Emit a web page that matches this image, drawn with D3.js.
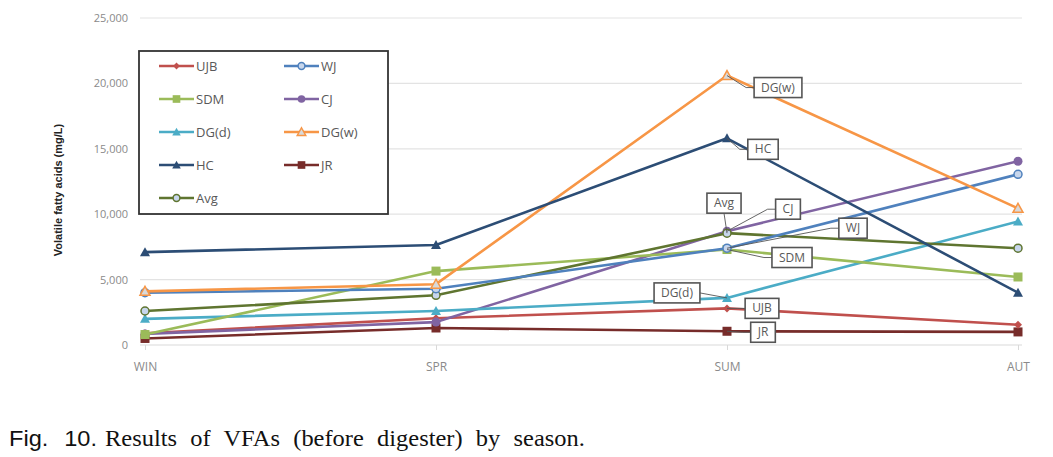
<!DOCTYPE html>
<html><head><meta charset="utf-8">
<script src="https://cdn.jsdelivr.net/npm/d3@7"></script>
<style>body{margin:0;background:#fff}svg{display:block}</style>
</head><body>
<svg id="c" width="1053" height="457"></svg>
<script>
const categories = ["WIN", "SPR", "SUM", "AUT"];
const seriesNames = ["UJB", "WJ", "SDM", "CJ", "DG(d)", "DG(w)", "HC", "JR", "Avg"];
const UJB  = [900, 2050, 2800, 1550];
const WJ   = [4000, 4300, 7400, 13050];
const SDM  = [800, 5650, 7300, 5200];
const CJ   = [850, 1750, 8700, 14050];
const DGd  = [2000, 2600, 3600, 9450];
const DGw  = [4100, 4650, 20600, 10450];
const HC   = [7100, 7650, 15800, 4000];
const JR   = [500, 1300, 1050, 1000];
const Avg  = [2600, 3800, 8550, 7400];
const yTicks = [0, 5000, 10000, 15000, 20000, 25000];

const seriesValues = [UJB, WJ, SDM, CJ, DGd, DGw, HC, JR, Avg];
const colors = ["#C0504D", "#4F81BD", "#9BBB59", "#8064A2", "#4BACC6", "#F79646", "#2C4D75", "#772C2A", "#5F7530"];
const markers = ["diamond", "circleHollow", "square", "circle", "triangle", "triangleHollow", "triangle", "square", "circleHollow"];
const order = [7, 0, 3, 4, 2, 8, 1, 5, 6];

const labelOffsets = {
  "DG(w)": [51, 12], "HC": [36, 11], "Avg": [-3, -30], "CJ": [61, -22],
  "WJ": [126, -20], "SDM": [65, 8], "DG(d)": [-50, -5], "UJB": [35, 0], "JR": [36, 1]
};

const svg = d3.select("#c");
const x = d3.scalePoint().domain(categories).range([145, 1018]);
const y = d3.scaleLinear().domain([0, 25000]).range([345, 18]);

svg.append("g").selectAll("line").data(yTicks.filter(d => d > 0)).join("line")
  .attr("x1", 140).attr("x2", 1022)
  .attr("y1", d => y(d)).attr("y2", d => y(d))
  .attr("stroke", "#e3e3e3").attr("stroke-width", 1.2);

const xa = svg.append("g").attr("transform", `translate(0,${y(0)})`)
  .call(d3.axisBottom(x).tickSize(5).tickPadding(12));
xa.select(".domain").attr("d", "M140,0H1022").attr("stroke", "#d9d9d9").attr("stroke-width", 1.2);
xa.selectAll(".tick line").attr("stroke", "#d9d9d9");
xa.selectAll("text").attr("fill", "#8a8a8a").style("font-family", "'Open Sans', Arial, sans-serif").style("font-size", "12px");

const ya = svg.append("g").attr("transform", "translate(128,0)")
  .call(d3.axisLeft(y).tickValues(yTicks).tickFormat(d3.format(",")).tickSize(0).tickPadding(0));
ya.select(".domain").remove();
ya.selectAll("text").attr("fill", "#8a8a8a").style("font-family", "'Open Sans', Arial, sans-serif").style("font-size", "11px");

svg.append("text").attr("transform", "translate(62,190) rotate(-90)")
  .attr("text-anchor", "middle").attr("font-family", "Arial, sans-serif").attr("font-weight", "bold")
  .attr("font-size", "11px").attr("fill", "#222").text("Volatile fatty acids  (mg/L)");

function drawMarker(g, type, cx, cy, color, s) {
  s = s || 1;
  if (type === "diamond") {
    g.append("path").attr("d", `M${cx},${cy-4*s}L${cx+4*s},${cy}L${cx},${cy+4*s}L${cx-4*s},${cy}Z`).attr("fill", color);
  } else if (type === "square") {
    g.append("rect").attr("x", cx-4.5*s).attr("y", cy-4.5*s).attr("width", 9*s).attr("height", 9*s).attr("fill", color);
  } else if (type === "circle") {
    g.append("circle").attr("cx", cx).attr("cy", cy).attr("r", 4.5*s).attr("fill", color);
  } else if (type === "circleHollow") {
    g.append("circle").attr("cx", cx).attr("cy", cy).attr("r", 4*s).attr("fill", "#c7d6ec").attr("stroke", color).attr("stroke-width", 1.5);
  } else if (type === "triangle") {
    g.append("path").attr("d", `M${cx},${cy-5*s}L${cx+5*s},${cy+4*s}L${cx-5*s},${cy+4*s}Z`).attr("fill", color);
  } else if (type === "triangleHollow") {
    g.append("path").attr("d", `M${cx},${cy-5*s}L${cx+5*s},${cy+4*s}L${cx-5*s},${cy+4*s}Z`).attr("fill", "#d9d9d9").attr("stroke", color).attr("stroke-width", 1.5);
  }
}

const line = d3.line().x((d, i) => x(categories[i])).y(d => y(d));
const plot = svg.append("g");
order.forEach(si => {
  const g = plot.append("g");
  g.append("path").datum(seriesValues[si]).attr("d", line)
    .attr("fill", "none").attr("stroke", colors[si]).attr("stroke-width", 2.6).attr("stroke-linejoin", "round");
  seriesValues[si].forEach((v, i) => drawMarker(g, markers[si], x(categories[i]), y(v), colors[si]));
});

const lab = svg.append("g").attr("font-family", "'Open Sans', Arial, sans-serif").attr("font-size", "12px");
seriesNames.forEach((name, si) => {
  const px = x("SUM"), py = y(seriesValues[si][2]);
  const off = labelOffsets[name];
  const cx = px + off[0], cy = py + off[1];
  const t = lab.append("text").attr("x", cx).attr("y", cy + 4).attr("text-anchor", "middle").attr("fill", "#595959").text(name);
  const w = t.node().getComputedTextLength() + 14, h = 20;
  const ex = off[0] > 0 ? cx - w/2 : (off[0] < -20 ? cx + w/2 : cx);
  const ey = Math.abs(off[0]) > 20 ? cy : cy + h/2;
  lab.insert("path", "text").attr("d", `M${px},${py}L${ex - (off[0] > 0 ? 8 : 0)},${ey}L${ex},${ey}`)
    .attr("fill", "none").attr("stroke", "#555").attr("stroke-width", 0.9);
  lab.insert("rect", "text").attr("x", cx - w/2).attr("y", cy - h/2).attr("width", w).attr("height", h)
    .attr("fill", "#fff").attr("stroke", "#555").attr("stroke-width", 1.6);
});

const lg = svg.append("g");
lg.append("rect").attr("x", 139).attr("y", 51).attr("width", 249).attr("height", 163)
  .attr("fill", "#fff").attr("stroke", "#333").attr("stroke-width", 1.8);
seriesNames.forEach((name, si) => {
  const col = si % 2, row = Math.floor(si / 2);
  const lx = 159 + col * 125, ly = 66 + row * 33;
  lg.append("line").attr("x1", lx).attr("x2", lx + 35).attr("y1", ly).attr("y2", ly)
    .attr("stroke", colors[si]).attr("stroke-width", 2.6);
  drawMarker(lg, markers[si], lx + 17.5, ly, colors[si], 0.85);
  lg.append("text").attr("x", lx + 37).attr("y", ly + 5).attr("fill", "#595959")
    .attr("font-family", "'Open Sans', Arial, sans-serif").attr("font-size", "13px").text(name);
});

// caption
const figT = svg.append("text").attr("font-family", "'Liberation Sans', Arial, sans-serif")
  .attr("font-size", "23px").attr("fill", "#111").attr("word-spacing", "9px").text("Fig. 10.");
const fw = figT.node().getComputedTextLength();
figT.attr("transform", `translate(9,446) scale(${88 / fw},1)`);
const cap = svg.append("text").attr("x", 0).attr("y", 0).attr("font-family", "'Liberation Serif', 'Times New Roman', serif")
  .attr("font-size", "24px").attr("fill", "#111").attr("word-spacing", "7px")
  .text("Results of VFAs (before digester) by season.");
const natural = cap.node().getComputedTextLength();
cap.attr("transform", `translate(105,446) scale(${480 / natural},1)`);
</script>
</body></html>
